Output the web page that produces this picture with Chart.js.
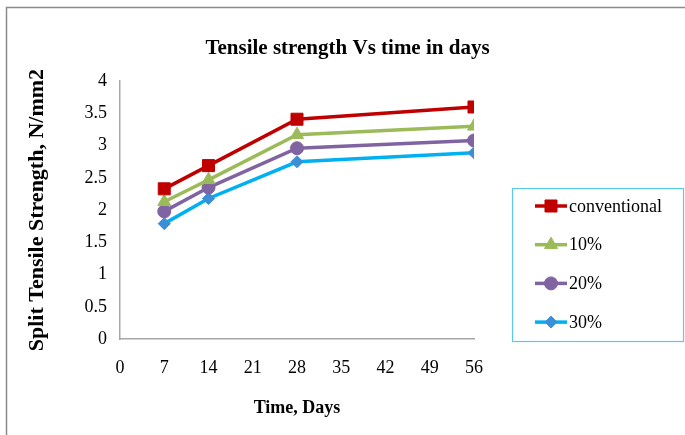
<!DOCTYPE html>
<html>
<head>
<meta charset="utf-8">
<script src="https://cdn.jsdelivr.net/npm/chart.js@4/dist/chart.umd.min.js"></script>
<style>
  html, body { margin: 0; padding: 0; background: #ffffff; }
  canvas { display: block; }
</style>
</head>
<body>
<canvas id="c" width="685" height="435"></canvas>
<script>
const days = [7, 14, 28, 56];
const seriesNames = ['conventional', '10%', '20%', '30%'];
const conventional = [2.33, 2.69, 3.41, 3.60];
const pct10 = [2.13, 2.47, 3.17, 3.30];
const pct20 = [1.98, 2.35, 2.96, 3.08];
const pct30 = [1.79, 2.18, 2.75, 2.89];
const xTicks = [0, 7, 14, 21, 28, 35, 42, 49, 56];
const yTicks = [0, 0.5, 1, 1.5, 2, 2.5, 3, 3.5, 4];
const chartTitle = 'Tensile strength Vs time in days';
const xTitle = 'Time, Days';
const yTitle = 'Split Tensile Strength, N/mm2';

const FONT = "'Liberation Serif', 'Times New Roman', serif";

function pts(vals) { return days.map((d, i) => ({ x: d, y: vals[i] })); }

const styles = [
  { line: '#C00000', fill: '#C00000', shape: 'rect', r: 8.5 },
  { line: '#9BBB59', fill: '#9BBB59', shape: 'triangle', r: 7.5 },
  { line: '#8064A2', fill: '#8064A2', shape: 'circle', r: 6.5 },
  { line: '#00B0F0', fill: '#3A8FD8', shape: 'rectRot', r: 6 }
];
const allVals = [conventional, pct10, pct20, pct30];

const datasets = allVals.map((vals, i) => ({
  label: seriesNames[i],
  data: pts(vals),
  borderColor: styles[i].line,
  backgroundColor: styles[i].fill,
  pointBackgroundColor: styles[i].fill,
  pointBorderColor: styles[i].fill,
  pointStyle: styles[i].shape,
  pointRadius: styles[i].r,
  pointBorderWidth: 1,
  borderWidth: 3.5,
  tension: 0,
  fill: false,
  yAxisID: 'y'
}));

const framePlugin = {
  id: 'frame',
  beforeDraw(chart) {
    const ctx = chart.ctx;
    ctx.save();
    ctx.fillStyle = '#ffffff';
    ctx.fillRect(0, 0, chart.width, chart.height);
    ctx.strokeStyle = '#8a8a8a';
    ctx.lineWidth = 1.5;
    ctx.beginPath();
    ctx.moveTo(6.5, chart.height + 5);
    ctx.lineTo(6.5, 7.5);
    ctx.lineTo(chart.width + 5, 7.5);
    ctx.stroke();
    ctx.restore();
  }
};

const legendPlugin = {
  id: 'boxLegend',
  afterDraw(chart) {
    const ctx = chart.ctx;
    const box = { x: 512.5, y: 188.5, w: 171, h: 153 };
    ctx.save();
    ctx.strokeStyle = '#5BC8EE';
    ctx.lineWidth = 1.2;
    ctx.strokeRect(box.x, box.y, box.w, box.h);
    const startY = 206, step = 38.7;
    chart.data.datasets.forEach((ds, i) => {
      const y = startY + i * step;
      ctx.strokeStyle = ds.borderColor;
      ctx.lineWidth = 3.5;
      ctx.beginPath();
      ctx.moveTo(535, y);
      ctx.lineTo(567, y);
      ctx.stroke();
      ctx.fillStyle = ds.pointBackgroundColor;
      ctx.strokeStyle = ds.pointBorderColor;
      ctx.lineWidth = 1;
      Chart.helpers.drawPoint(ctx, { pointStyle: ds.pointStyle, radius: ds.pointRadius, rotation: 0, borderWidth: 1 }, 551, y);
      ctx.fillStyle = '#000000';
      ctx.font = '18px ' + FONT;
      ctx.textBaseline = 'middle';
      ctx.textAlign = 'left';
      ctx.fillText(ds.label, 569, y + 1);
    });
    ctx.restore();
  }
};

new Chart(document.getElementById('c'), {
  type: 'line',
  data: { datasets },
  plugins: [framePlugin, legendPlugin],
  options: {
    responsive: false,
    animation: false,
    devicePixelRatio: 1,
    layout: { padding: { left: 10, right: 0, top: 0, bottom: 10 } },
    plugins: {
      legend: { display: false },
      tooltip: { enabled: false },
      title: {
        display: true,
        text: chartTitle,
        color: '#000000',
        font: { family: FONT, size: 21, weight: 'bold', lineHeight: 1.2 },
        padding: { top: 36, bottom: 20 }
      }
    },
    scales: {
      x: {
        type: 'linear',
        min: 0,
        max: 56,
        afterBuildTicks(scale) { scale.ticks = xTicks.map(v => ({ value: v })); },
        afterFit(scale) { scale.height = 86; },
        grid: { display: false, drawTicks: false },
        border: { display: true, color: '#A6A6A6', width: 1.5 },
        ticks: {
          color: '#000000',
          padding: 18,
          maxRotation: 0,
          autoSkip: false,
          font: { family: FONT, size: 18 }
        },
        title: {
          display: true,
          text: xTitle,
          color: '#000000',
          font: { family: FONT, size: 18, weight: 'bold', lineHeight: 1.2 },
          padding: { top: 0, bottom: 6 }
        }
      },
      y: {
        type: 'linear',
        position: 'left',
        min: 0,
        max: 4,
        afterBuildTicks(scale) { scale.ticks = yTicks.map(v => ({ value: v })); },
        afterFit(scale) { scale.width = 110; },
        grid: { display: false, drawTicks: false },
        border: { display: true, color: '#A6A6A6', width: 1.5 },
        ticks: {
          color: '#000000',
          padding: 13,
          autoSkip: false,
          font: { family: FONT, size: 18 },
          callback: (v) => String(v)
        },
        title: {
          display: true,
          text: yTitle,
          color: '#000000',
          font: { family: FONT, size: 22, weight: 'bold', lineHeight: 1.2 },
          padding: { top: 14, bottom: 0 }
        }
      },
      legendSpace: {
        type: 'linear',
        position: 'right',
        display: true,
        min: 0,
        max: 1,
        afterFit(scale) { scale.width = 211; },
        grid: { display: false, drawTicks: false },
        border: { display: false },
        ticks: { display: false }
      }
    }
  }
});
</script>
</body>
</html>
